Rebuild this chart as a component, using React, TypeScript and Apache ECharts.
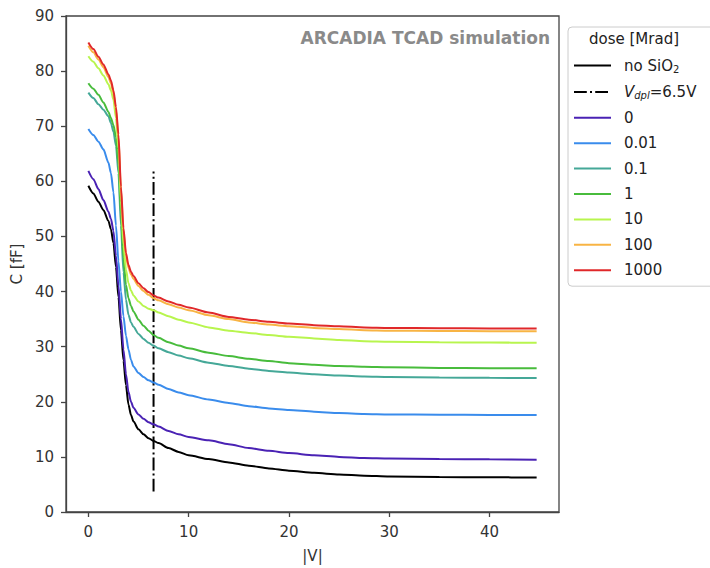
import React, { useEffect, useRef } from 'react';
import * as echarts from 'echarts';

// |V| sample points shared by all curves
const voltages = [0, 0.5, 1, 1.5, 2, 2.25, 2.5, 2.75, 3, 3.25, 3.5, 3.75, 4, 4.25, 4.5, 5, 5.5, 6, 6.5, 7, 8, 9, 10, 12, 14, 16, 18, 20, 22.5, 25, 27.5, 30, 35, 40, 44.7];

// C [fF]
const noSiO2 = [59.2, 57.8, 56.3, 54.8, 52.8, 51.3, 48.8, 44.5, 39, 33, 27.5, 23, 19.5, 17.6, 16.4, 15.0, 14.1, 13.4, 12.9, 12.5, 11.6, 10.9, 10.3, 9.6, 9.0, 8.4, 7.9, 7.5, 7.1, 6.8, 6.6, 6.45, 6.35, 6.3, 6.25];
const dose0 = [61.9, 60.4, 58.6, 56.6, 54.5, 53.2, 51, 46.5, 41, 35, 29.5, 25, 21.8, 20, 18.9, 17.7, 16.9, 16.3, 15.9, 15.5, 14.7, 14.1, 13.6, 13.0, 12.3, 11.6, 11.1, 10.7, 10.3, 10.0, 9.8, 9.7, 9.6, 9.55, 9.5];
const dose001 = [69.5, 68.4, 67.2, 65.8, 63.4, 61.5, 58, 52, 45.5, 40, 35.5, 32, 29.5, 27.6, 26.4, 25.2, 24.5, 23.9, 23.5, 23.1, 22.3, 21.7, 21.2, 20.4, 19.8, 19.2, 18.8, 18.5, 18.2, 17.95, 17.8, 17.7, 17.65, 17.6, 17.6];
const dose01 = [76.1, 75.1, 74.0, 73.0, 71.8, 70.6, 69, 66.5, 61.5, 52, 43.5, 38.5, 35.8, 34.4, 33.6, 32.3, 31.4, 30.7, 30.2, 29.7, 29.0, 28.4, 27.9, 27.1, 26.5, 26.0, 25.6, 25.3, 25.0, 24.75, 24.6, 24.5, 24.4, 24.35, 24.3];
const dose1 = [77.8, 76.8, 75.7, 74.3, 72.6, 71.5, 70.2, 68, 63, 54, 46, 41.2, 38.8, 37.4, 36.4, 34.9, 33.8, 32.9, 32.1, 31.6, 30.8, 30.2, 29.7, 28.9, 28.3, 27.8, 27.4, 27.0, 26.7, 26.5, 26.35, 26.25, 26.15, 26.1, 26.1];
const dose10 = [82.7, 81.7, 80.5, 79.2, 77.6, 76.5, 74.8, 71.5, 66, 56.5, 48.5, 44, 41.5, 40.2, 39.3, 38.2, 37.4, 36.9, 36.6, 36.2, 35.5, 34.9, 34.4, 33.5, 32.9, 32.5, 32.1, 31.8, 31.5, 31.2, 31.0, 30.9, 30.8, 30.75, 30.7];
const dose100 = [84.6, 83.4, 82.1, 80.7, 78.9, 77.8, 76, 73, 68, 58.5, 51, 46.5, 44.3, 43.1, 42.3, 41.0, 40.1, 39.4, 38.8, 38.4, 37.7, 37.1, 36.6, 35.7, 35.0, 34.4, 34.0, 33.7, 33.4, 33.2, 33.0, 32.9, 32.85, 32.8, 32.8];
const dose1000 = [85.2, 84.0, 82.6, 81.2, 79.4, 78.3, 76.5, 73.5, 68.5, 59, 51.5, 47, 44.8, 43.6, 42.8, 41.5, 40.6, 39.9, 39.3, 38.9, 38.2, 37.6, 37.1, 36.2, 35.4, 34.9, 34.5, 34.2, 33.9, 33.7, 33.5, 33.4, 33.35, 33.3, 33.3];

const doseNames = ['0', '0.01', '0.1', '1', '10', '100', '1000'];
const doseColors = ['#4a22b4', '#3a8cec', '#45a898', '#48bc3c', '#b8f54e', '#f8b444', '#e0282a'];

// depletion voltage marker
const depletionVoltage = 6.5;
const depletionRange = [3.7, 61.8];

const xTickValues = [0, 10, 20, 30, 40];

const FONT = 'DejaVu Sans';

export default function App() {
  const ref = useRef<HTMLDivElement>(null);

  useEffect(() => {
    if (!ref.current) return;
    const chart = echarts.init(ref.current, null, { renderer: 'svg' });
    const pair = (ys: number[]) => voltages.map((v, i) => [v, ys[i]]);
    const doseData = [dose0, dose001, dose01, dose1, dose10, dose100, dose1000];

    const lineBase = {
      type: 'line',
      symbol: 'none',
      smooth: 0.25,
      smoothMonotone: 'x',
    };

    const series: any[] = [
      {
        ...lineBase,
        name: 'no SiO2',
        data: pair(noSiO2),
        color: '#000000',
        lineStyle: { width: 2, color: '#000000' },
        z: 2,
      },
      {
        type: 'line',
        symbol: 'none',
        name: 'Vdpl',
        data: depletionRange.map((c) => [depletionVoltage, c]),
        color: '#000000',
        lineStyle: { width: 2, color: '#000000', type: [12.8, 3.2, 2, 3.2] },
        z: 2,
      },
      ...doseNames.map((n, i) => ({
        ...lineBase,
        name: n,
        data: pair(doseData[i]),
        color: doseColors[i],
        lineStyle: { width: 2, color: doseColors[i] },
        z: 3 + i,
      })),
    ];

    const legendLabels: Record<string, string> = {
      'no SiO2': 'no SiO{sub|2}',
      Vdpl: '{i|V}{isub|dpl}=6.5V',
    };

    chart.setOption({
      animation: false,
      backgroundColor: '#ffffff',
      textStyle: { fontFamily: FONT },
      grid: {
        left: 66,
        top: 16,
        right: 151,
        bottom: 55,
        show: true,
        borderColor: '#444444',
        borderWidth: 1.3,
        backgroundColor: 'transparent',
      },
      xAxis: {
        type: 'value',
        min: -2.23,
        max: 46.93,
        name: '|V|',
        nameLocation: 'middle',
        nameGap: 36,
        nameTextStyle: { fontFamily: FONT, fontSize: 15, color: '#333333' },
        axisLine: { show: true, onZero: false, lineStyle: { color: '#444444', width: 1.3 } },
        axisTick: { show: true, length: 5, lineStyle: { color: '#444444', width: 1.3 }, customValues: xTickValues },
        axisLabel: { fontFamily: FONT, fontSize: 15, color: '#333333', margin: 12, customValues: xTickValues },
        splitLine: { show: false },
      },
      yAxis: {
        type: 'value',
        min: 0,
        max: 90,
        interval: 10,
        name: 'C [fF]',
        nameLocation: 'middle',
        nameGap: 40,
        nameRotate: 90,
        nameTextStyle: { fontFamily: FONT, fontSize: 15, color: '#333333' },
        axisLine: { show: true, onZero: false, lineStyle: { color: '#444444', width: 1.3 } },
        axisTick: { show: true, length: 5, lineStyle: { color: '#444444', width: 1.3 } },
        axisLabel: { fontFamily: FONT, fontSize: 15, color: '#333333', margin: 12 },
        splitLine: { show: false },
      },
      legend: {
        orient: 'vertical',
        left: 568,
        top: 27,
        padding: [30, 20, 8, 5],
        itemWidth: 37,
        itemHeight: 16,
        itemGap: 9.4,
        backgroundColor: '#ffffff',
        borderColor: '#cccccc',
        borderWidth: 1,
        borderRadius: 4,
        itemStyle: { opacity: 0 },
        data: ['no SiO2', 'Vdpl', ...doseNames],
        formatter: (name: string) => legendLabels[name] ?? name,
        textStyle: {
          fontFamily: FONT,
          fontSize: 15,
          color: '#222222',
          lineHeight: 16,
          padding: [0, 0, 0, 8],
          rich: {
            sub: { fontFamily: FONT, fontSize: 10, lineHeight: 10, padding: [7, 0, 0, 0], color: '#222222' },
            i: { fontFamily: FONT, fontSize: 15, fontStyle: 'italic', lineHeight: 16, color: '#222222' },
            isub: { fontFamily: FONT, fontSize: 10, fontStyle: 'italic', lineHeight: 10, padding: [7, 0, 0, 0], color: '#222222' },
          },
        },
      },
      graphic: [
        {
          type: 'text',
          z: 100,
          left: 589,
          top: 31,
          style: { text: 'dose [Mrad]', font: `15px "${FONT}"`, fill: '#222222' },
        },
        {
          type: 'text',
          z: 100,
          right: 160,
          top: 29,
          style: { text: 'ARCADIA TCAD simulation', font: `bold 17px "${FONT}"`, fill: '#8a8a8a' },
        },
      ],
      series,
    });

    return () => chart.dispose();
  }, []);

  return <div ref={ref} style={{ position: 'fixed', left: 0, top: 0, width: 710, height: 568 }} />;
}
